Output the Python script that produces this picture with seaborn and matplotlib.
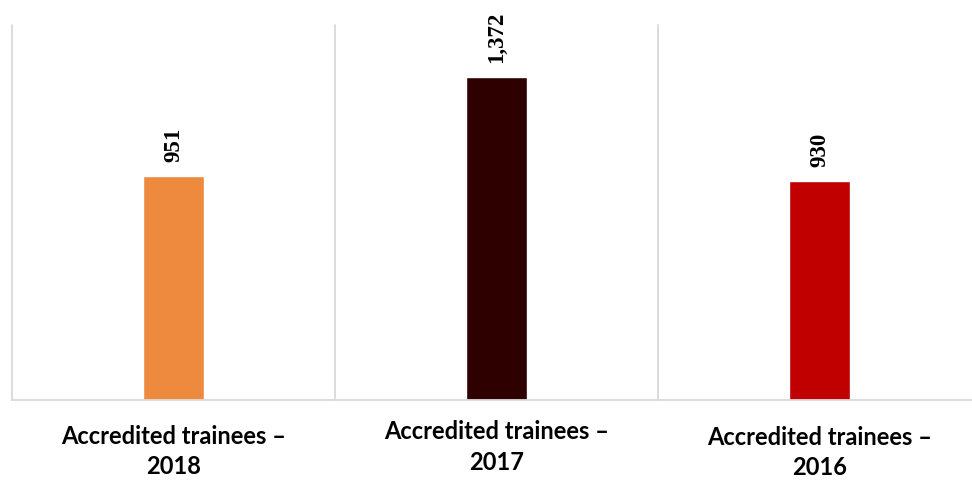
import matplotlib
matplotlib.use("Agg")
import matplotlib.pyplot as plt
from matplotlib.transforms import ScaledTranslation
import seaborn as sns
import pandas as pd

categories = ["Accredited trainees –\n2018", "Accredited trainees –\n2017", "Accredited trainees –\n2016"]
values = [951, 1372, 930]
colors = ["#EE8A3E", "#2E0000", "#C00000"]
label_shift_pts = [-3, 0, -4]

sns.set_theme(style="white")

df = pd.DataFrame({"category": categories, "value": values})

fig = plt.figure(figsize=(9.72, 4.81), dpi=100)
ax = fig.add_axes([12 / 972, 80 / 481, 969 / 972, 375 / 481])

sns.barplot(data=df, x="category", y="value", hue="category",
            palette=colors, saturation=1, width=0.186, legend=False, ax=ax)

ax.set_xlim(-0.5, len(categories) - 0.5)
ax.set_ylim(0, 1595)

# separators between categories
for xb in [-0.5, 0.5, 1.5, 2.5]:
    ax.axvline(xb, color="#d9d9d9", lw=1.3, zorder=0, clip_on=False)

for sp in ["top", "right", "left"]:
    ax.spines[sp].set_visible(False)
ax.spines["bottom"].set_color("#d9d9d9")
ax.spines["bottom"].set_linewidth(1.3)

ax.set_yticks([])
ax.set_xlabel("")
ax.set_ylabel("")
ax.tick_params(axis="x", length=0, pad=14)
ax.set_xticks(range(len(categories)))
ax.set_xticklabels(categories, fontfamily=["Lato", "DejaVu Sans"],
                   fontweight="bold", fontsize=17, color="black", linespacing=1.38)
for lab, dy in zip(ax.get_xticklabels(), label_shift_pts):
    lab.set_transform(lab.get_transform() + ScaledTranslation(0, dy / 72, fig.dpi_scale_trans))

for cont, v in zip(ax.containers, values):
    ax.bar_label(cont, labels=[f"{v:,}"], rotation=90, padding=11,
                 fontfamily=["Liberation Serif", "DejaVu Serif"], fontweight="bold",
                 fontsize=16.5, color="black")

fig.savefig("out.png", dpi=100)
